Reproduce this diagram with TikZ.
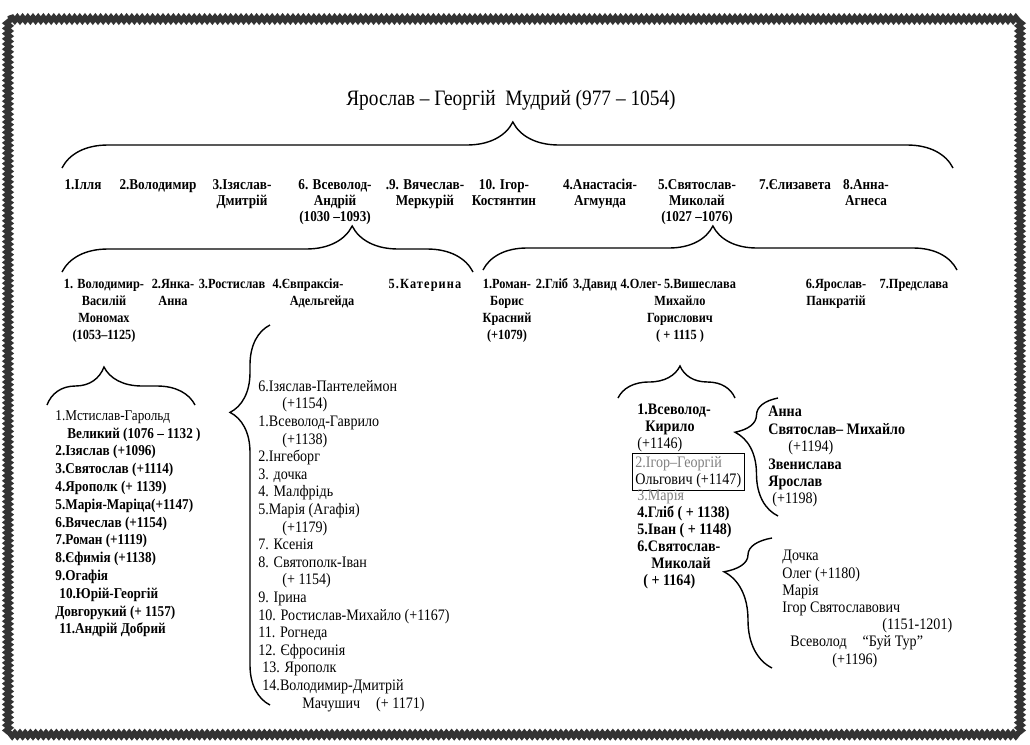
\documentclass[tikz,border=0pt]{standalone}
\usepackage{fontspec}
\setmainfont{Liberation Serif}[FakeStretch=0.88]
\usetikzlibrary{decorations.pathreplacing,decorations.pathmorphing}

% fixed height for the first line of a name
\newcommand{\gtop}{\rule{0pt}{7pt}}

\tikzset{
  toptitle/.style={inner sep=0pt, font=\fontsize{11}{13}\selectfont},
  gen1/.style={align=center, anchor=north, inner sep=0pt, font=\fontsize{7.5}{8}\selectfont\bfseries},
  gen2/.style={align=center, anchor=north, inner sep=0pt, font=\fontsize{7}{8.5}\selectfont\bfseries},
  kids/.style={align=left, anchor=north west, inner sep=0pt, font=\fontsize{8}{8.5}\selectfont},
  brc/.style 2 args={decorate, decoration={brace, amplitude=#1, aspect=#2}, line width=0.7pt},
  fuzzyframe/.style={decorate, decoration={snake, segment length=2.6pt, amplitude=0.8pt}, line width=2.8pt, draw=black!80},
  faded/.style={text=black!50}
}

\begin{document}
\begin{tikzpicture}[x=0.5pt, y=-0.5pt]
\useasboundingbox (0,0) rectangle (1030,745);
\fill[white] (0,0) rectangle (1030,745);
\draw[fuzzyframe] (8,19) rectangle (1018,731);

\node[toptitle] (yaroslav) at (511,100) {Ярослав – Георгій\ \ Мудрий (977 – 1054)};

% children of Yaroslav
\coordinate (b1l) at (62,168);
\coordinate (b1r) at (953,168);
\draw[brc={23pt}{0.506}] (b1l) -- (b1r);

\node[gen1] (ilya) at (83,175) {\gtop 1.Ілля};
\node[gen1] (volod) at (158,175) {\gtop 2.Володимир};
\node[gen1] (izyas) at (242,175) {\gtop 3.Ізяслав-\\Дмитрій};
\node[gen1] (vsevol) at (335,175) {\gtop 6. Всеволод-\\Андрій\\(1030 –1093)};
\node[gen1] (vyach) at (425,175) {\gtop .9. Вячеслав-\\Меркурій};
\node[gen1] (igor) at (504,175) {\gtop 10. Ігор-\\Костянтин};
\node[gen1] (anast) at (600,175) {\gtop 4.Анастасія-\\Агмунда};
\node[gen1] (svyat) at (697,175) {\gtop 5.Святослав-\\Миколай\\(1027 –1076)};
\node[gen1] (yeliz) at (795,175) {\gtop 7.Єлизавета};
\node[gen1] (annaa) at (866,175) {\gtop 8.Анна-\\Агнеса};

% children of Vsevolod
\coordinate (b2l) at (62,272);
\coordinate (b2r) at (473,272);
\draw[brc={23pt}{0.706}] (b2l) -- (b2r);

\node[gen2] (volmon) at (104,274) {\gtop 1. Володимир-\\Василій\\Мономах\\(1053–1125)};
\node[gen2] (yanka) at (173,274) {\gtop 2.Янка-\\Анна};
\node[gen2] (rostysl) at (232,274) {\gtop 3.Ростислав};
\node[gen2] (yevpr) at (308,274) {\gtop 4.Євпраксія-\\\hspace*{14pt}Адельгейда};
\node[gen2] (kater) at (425,274) {\gtop\addfontfeature{LetterSpace=8}5.Катерина};

% children of Svyatoslav
\coordinate (b3l) at (483,270);
\coordinate (b3r) at (957,270);
\draw[brc={22pt}{0.485}] (b3l) -- (b3r);

\node[gen2] (roman) at (507,274) {\gtop 1.Роман-\\Борис\\Красний\\(+1079)};
\node[gen2] (glib) at (552,274) {\gtop 2.Гліб};
\node[gen2] (david) at (595,274) {\gtop 3.Давид};
\node[gen2] (oleg) at (641,274) {\gtop 4.Олег-};
\node[gen2] (vysh) at (700,274) {\gtop 5.Вишеслава};
\node[gen2] (olegm) at (680,291) {\gtop Михайло\\Горислович\\( + 1115 )};
\node[gen2] (yarosl) at (836,274) {\gtop 6.Ярослав-\\Панкратій};
\node[gen2] (predsl) at (914,274) {\gtop 7.Предслава};

% Monomakh
\coordinate (b4l) at (47,405);
\coordinate (b4r) at (195,405);
\draw[brc={19pt}{0.385}] (b4l) -- (b4r);

\node[kids, font=\fontsize{7.5}{8.9}\selectfont\bfseries] (monkids) at (55,410) {{\mdseries 1.Мстислав-Гарольд}\\
\hspace*{6pt}Великий (1076 – 1132 )\\
2.Ізяслав (+1096)\\
3.Святослав (+1114)\\
4.Ярополк (+ 1139)\\
5.Марія-Маріца(+1147)\\
6.Вячеслав (+1154)\\
7.Роман (+1119)\\
8.Єфимія (+1138)\\
9.Огафія\\
\hspace*{2pt}10.Юрій-Георгій\\
Довгорукий (+ 1157)\\
\hspace*{2pt}11.Андрій Добрий};

% Mstyslav
\coordinate (b5b) at (270,705);
\coordinate (b5t) at (270,325);
\draw[brc={20pt}{0.77}] (b5b) -- (b5t);

\node[kids, font=\fontsize{8}{8.8}\selectfont] (mstkids) at (258,380) {6.Ізяслав-Пантелеймон\\
\hspace*{12pt}(+1154)\\
1.Всеволод-Гаврило\\
\hspace*{12pt}(+1138)\\
2.Інгеборг\\
3. дочка\\
4. Малфрідь\\
5.Марія (Агафія)\\
\hspace*{12pt}(+1179)\\
7. Ксенія\\
8. Святополк-Іван\\
\hspace*{12pt}(+ 1154)\\
9. Ірина\\
10. Ростислав-Михайло (+1167)\\
11. Рогнеда\\
12. Єфросинія\\
\hspace*{2pt}13. Ярополк\\
\hspace*{2pt}14.Володимир-Дмитрій\\
\hspace*{22pt}Мачушич\quad(+ 1171)};

% Oleg
\coordinate (b6l) at (618,398);
\coordinate (b6r) at (735,398);
\draw[brc={16pt}{0.53}] (b6l) -- (b6r);

\node[kids, font=\fontsize{8}{8.5}\selectfont\bfseries] (vsevk) at (637,404) {1.Всеволод-\\\hspace*{4pt}Кирило\\{\mdseries (+1146)}};
\node[kids, draw, inner sep=1.5pt] (igorh) at (632,453) {{\color{black!50}2.Ігор–Георгій}\\Ольгович (+1147)};
\node[kids, font=\fontsize{8}{8.5}\selectfont\bfseries] (olegkids) at (637,489) {{\mdseries\color{black!50}3.Марія}\\
4.Гліб ( + 1138)\\
5.Іван ( + 1148)\\
6.Святослав-\\
\hspace*{7pt}Миколай\\
\hspace*{3pt}( + 1164)};

% Vsevolod-Kyrylo
\coordinate (b7b) at (778,516);
\coordinate (b7t) at (778,398);
\draw[brc={21.5pt}{0.71}] (b7b) -- (b7t);

\node[kids, font=\fontsize{8}{8.7}\selectfont\bfseries] (kirkids) at (768,406) {Анна\\
Святослав– Михайло\\
\hspace*{10pt}{\mdseries (+1194)}\\
Звенислава\\
Ярослав\\
\hspace*{2pt}{\mdseries (+1198)}};

% Svyatoslav-Mykola
\coordinate (b8b) at (772,668);
\coordinate (b8t) at (772,538);
\draw[brc={24pt}{0.74}] (b8b) -- (b8t);

\node[kids, font=\fontsize{8}{8.6}\selectfont] (mykkids) at (782,550) {Дочка\\
Олег (+1180)\\
Марія\\
Ігор Святославович\\
\hspace*{50pt}(1151-1201)\\
\hspace*{4pt}Всеволод\quad “Буй Тур”\\
\hspace*{25pt}(+1196)};
\end{tikzpicture}
\end{document}
